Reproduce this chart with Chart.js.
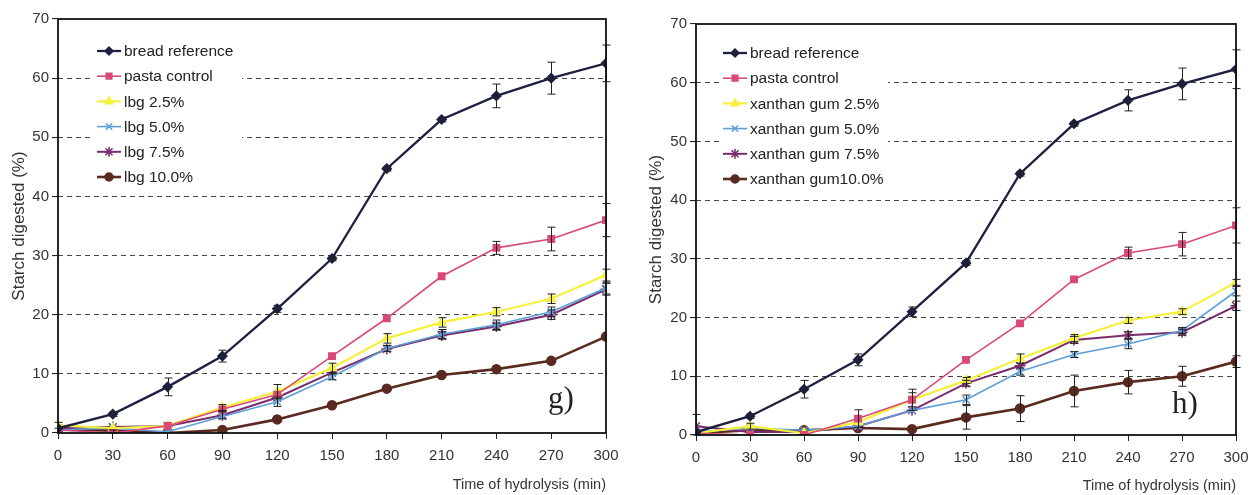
<!DOCTYPE html>
<html>
<head>
<meta charset="utf-8">
<title>Starch digestion curves</title>
<script src="https://cdn.jsdelivr.net/npm/chart.js@4.4.1/dist/chart.umd.min.js"></script>
<style>
  body { margin: 0; background: #fff; }
  #wrap { position: relative; width: 1250px; height: 495px; overflow: hidden; }
  canvas { position: absolute; top: 0; }
</style>
</head>
<body>
<div id="wrap">
  <canvas id="chartG" width="625" height="495" style="left:0"></canvas>
  <canvas id="chartH" width="625" height="495" style="left:625px"></canvas>
</div>
<script>
// ---- data ---------------------------------------------------------------
const TIMES = [0, 30, 60, 90, 120, 150, 180, 210, 240, 270, 300];
const Y_TICKS = [0, 10, 20, 30, 40, 50, 60, 70];

// panel g) locust bean gum
const G_LABELS = ['bread reference', 'pasta control', 'lbg 2.5%', 'lbg 5.0%', 'lbg 7.5%', 'lbg 10.0%'];
const G_BREAD  = [0.8, 3.2, 7.8, 13.0, 21.0, 29.5, 44.7, 53.0, 57.0, 60.0, 62.5];
const G_PASTA  = [0.5, 0.0, 1.2, 4.0, 6.5, 13.0, 19.4, 26.5, 31.3, 32.8, 36.0];
const G_LBG25  = [1.3, 0.8, 1.2, 4.3, 7.0, 11.0, 16.0, 18.7, 20.5, 22.7, 26.7];
const G_LBG50  = [0.5, 0.8, 0.2, 2.8, 5.3, 9.5, 14.3, 16.7, 18.3, 20.5, 24.5];
const G_LBG75  = [0.8, 1.0, 1.2, 3.0, 6.0, 10.2, 14.2, 16.5, 18.0, 20.0, 24.3];
const G_LBG100 = [0.6, 0.4, 0.0, 0.5, 2.3, 4.7, 7.5, 9.8, 10.8, 12.2, 16.3];

const G_BREAD_ERR  = [0, 0.4, 1.5, 1.0, 0.6, 0.4, 0.4, 0.4, 2.0, 2.7, 3.1];
const G_PASTA_ERR  = [0, 0.5, 0, 0, 0, 0, 0, 0, 1.1, 2.0, 2.8];
const G_LBG25_ERR  = [0.5, 0, 0, 0.5, 1.2, 0.8, 0.8, 0.8, 0.7, 0.8, 1.0];
const G_LBG50_ERR  = [0, 0, 0, 0, 0.8, 0.5, 0.5, 0.8, 0.8, 0.8, 1.0];
const G_LBG75_ERR  = [0, 0, 0, 0.6, 0, 0, 0, 0.6, 0.6, 0.8, 1.0];
const G_LBG100_ERR = [0, 0, 0, 0, 0, 0, 0, 0, 0, 0, 0];

// panel h) xanthan gum
const H_LABELS = ['bread reference', 'pasta control', 'xanthan gum 2.5%', 'xanthan gum 5.0%', 'xanthan gum 7.5%', 'xanthan gum10.0%'];
const H_BREAD  = [0.5, 3.2, 7.8, 12.8, 21.0, 29.3, 44.5, 53.0, 57.0, 59.8, 62.3];
const H_PASTA  = [0.3, 0.0, 0.0, 2.8, 6.0, 12.8, 19.0, 26.5, 31.0, 32.5, 35.7];
const H_XG25   = [0.3, 1.5, 0.3, 2.2, 6.0, 9.3, 13.0, 16.5, 19.5, 21.0, 26.0];
const H_XG50   = [0.5, 1.2, 0.8, 1.5, 4.2, 6.0, 10.8, 13.7, 15.5, 17.8, 24.5];
const H_XG75   = [1.5, 0.5, 0.5, 1.5, 4.2, 8.8, 11.8, 16.2, 17.0, 17.5, 22.0];
const H_XG100  = [0.3, 0.8, 0.8, 1.2, 1.0, 3.0, 4.5, 7.5, 9.0, 10.0, 12.5];

const H_BREAD_ERR = [0, 0.4, 1.5, 1.0, 0.8, 0.4, 0.4, 0.4, 1.8, 2.7, 3.3];
const H_PASTA_ERR = [0, 0, 0, 1.5, 1.8, 0, 0, 0, 1.0, 2.0, 3.0];
const H_XG25_ERR  = [0, 0.5, 0, 0, 1.2, 0.5, 0.8, 0.6, 0.5, 0.5, 0.5];
const H_XG50_ERR  = [0, 0, 0, 0, 0, 0.8, 0.6, 0.5, 0.8, 0.5, 0.8];
const H_XG75_ERR  = [2.0, 0, 0, 0, 0, 0.5, 0, 0.6, 0.6, 0.5, 0.8];
const H_XG100_ERR = [0, 0, 0, 0, 0, 2.0, 2.2, 2.7, 2.0, 1.7, 1.0];

// ---- series look (shared by both panels) ---------------------------------
const STYLES = [
  { color: '#1e2040', point: 'rectRot',  radius: 4.5, width: 2.3 },
  { color: '#d8497a', point: 'rect',     radius: 4.5, width: 1.6 },
  { color: '#f4f03c', point: 'triangle', radius: 5,   width: 2.2 },
  { color: '#5d9fd6', point: 'crossRot', radius: 5,   width: 1.6 },
  { color: '#7a2d6c', point: 'star',     radius: 5.5, width: 2 },
  { color: '#5a2a20', point: 'circle',   radius: 4.5, width: 2.6 }
];

Chart.defaults.font.family = "'Liberation Sans', Arial, sans-serif";
Chart.defaults.font.size = 15;
Chart.defaults.color = '#333';

// error bars, legend box, frame and panel tag
const extrasPlugin = {
  id: 'extras',
  beforeDatasetsDraw(chart, args, opts) {
    const ctx = chart.ctx;
    const a = chart.chartArea;
    const x0 = a.left + opts.legendX;
    const y0 = a.top + opts.legendY;
    ctx.save();
    ctx.fillStyle = '#fff';
    ctx.fillRect(x0 - 3, y0 - 14, opts.legendW, opts.rowGap * 6 + 2);
    ctx.restore();
  },
  afterDatasetsDraw(chart, args, opts) {
    const ctx = chart.ctx;
    const xs = chart.scales.x, ys = chart.scales.y;
    ctx.save();
    ctx.strokeStyle = '#222';
    ctx.lineWidth = 1;
    chart.data.datasets.forEach(ds => {
      ds.errors.forEach((e, i) => {
        if (!e) return;
        const v = ds.data[i].y;
        const px = Math.round(xs.getPixelForValue(TIMES[i])) + 0.5;
        const top = ys.getPixelForValue(Math.min(v + e, 70));
        const bot = ys.getPixelForValue(Math.max(v - e, 0));
        ctx.beginPath();
        ctx.moveTo(px, top); ctx.lineTo(px, bot);
        ctx.moveTo(px - 4, top); ctx.lineTo(px + 4, top);
        ctx.moveTo(px - 4, bot); ctx.lineTo(px + 4, bot);
        ctx.stroke();
      });
    });
    ctx.restore();
  },
  afterDraw(chart, args, opts) {
    const ctx = chart.ctx;
    const a = chart.chartArea;
    ctx.save();
    // frame round the plot
    ctx.strokeStyle = '#111';
    ctx.lineWidth = 1.8;
    ctx.strokeRect(a.left, a.top, a.right - a.left, a.bottom - a.top);

    // legend: line - marker - line, then label
    const x0 = a.left + opts.legendX;
    ctx.font = "15.5px 'Liberation Sans', Arial, sans-serif";
    ctx.textBaseline = 'middle';
    chart.data.datasets.forEach((ds, i) => {
      const st = STYLES[i];
      const y = a.top + opts.legendY + i * opts.rowGap;
      ctx.strokeStyle = st.color;
      ctx.lineWidth = st.width;
      ctx.beginPath();
      ctx.moveTo(x0, y); ctx.lineTo(x0 + 24, y);
      ctx.stroke();
      ctx.fillStyle = st.color;
      ctx.lineWidth = 1.5;
      Chart.helpers.drawPoint(ctx, { pointStyle: st.point, radius: st.radius - 0.5, rotation: 0, borderWidth: 1.5 }, x0 + 12, y);
      ctx.fillStyle = '#222';
      ctx.fillText(ds.label, x0 + 27, y + 1);
    });

    // panel tag
    ctx.fillStyle = '#222';
    ctx.font = "31px 'Liberation Serif', 'Times New Roman', serif";
    ctx.textBaseline = 'alphabetic';
    ctx.fillText(opts.tag, a.left + opts.tagX, a.top + opts.tagY);
    ctx.restore();
  }
};

function buildChart(canvasId, labels, series, errors, layout) {
  const datasets = series.map((vals, i) => ({
    label: labels[i],
    data: vals.map((v, j) => ({ x: TIMES[j], y: v })),
    errors: errors[i],
    borderColor: STYLES[i].color,
    backgroundColor: STYLES[i].color,
    borderWidth: STYLES[i].width,
    pointStyle: STYLES[i].point,
    pointRadius: STYLES[i].radius,
    pointBorderWidth: 1.5,
    tension: 0
  }));

  return new Chart(document.getElementById(canvasId), {
    type: 'line',
    data: { datasets },
    options: {
      responsive: false,
      animation: false,
      layout: { padding: layout.padding },
      plugins: {
        legend: { display: false },
        tooltip: { enabled: false },
        extras: layout.extras
      },
      scales: {
        x: {
          type: 'linear',
          min: 0,
          max: 300,
          ticks: { stepSize: 30, padding: 8, color: '#333', maxRotation: 0 },
          grid: { drawOnChartArea: false, tickLength: 6, tickColor: '#222' },
          border: { display: false },
          title: {
            display: true,
            text: 'Time of hydrolysis (min)',
            align: 'end',
            color: '#333',
            font: { size: 14.5 },
            padding: { top: 0, bottom: layout.xTitlePad }
          },
          afterFit(s) { s.height = layout.xHeight; s.paddingLeft = 0; s.paddingRight = 0; }
        },
        y: {
          min: 0,
          max: 70,
          afterBuildTicks(s) { s.ticks = Y_TICKS.map(v => ({ value: v })); },
          ticks: { padding: 3, color: '#333' },
          grid: {
            color: c => (c.tick.value === 0 || c.tick.value === 70) ? 'rgba(0,0,0,0)' : '#444',
            tickColor: '#222',
            tickLength: 6,
            lineWidth: 1.1,
            tickBorderDash: []
          },
          border: { display: false, dash: [5, 4] },
          title: {
            display: true,
            text: 'Starch digested (%)',
            color: '#333',
            font: { size: 17 },
            padding: { top: 0, bottom: 0 }
          },
          afterFit(s) { s.width = layout.yWidth; s.paddingTop = 0; s.paddingBottom = 0; }
        }
      }
    },
    plugins: [extrasPlugin]
  });
}

buildChart('chartG', G_LABELS,
  [G_BREAD, G_PASTA, G_LBG25, G_LBG50, G_LBG75, G_LBG100],
  [G_BREAD_ERR, G_PASTA_ERR, G_LBG25_ERR, G_LBG50_ERR, G_LBG75_ERR, G_LBG100_ERR],
  {
    padding: { left: 9, top: 19, right: 19, bottom: 0 },
    yWidth: 49,
    xHeight: 62,
    xTitlePad: 1,
    extras: { legendX: 39, legendY: 32, rowGap: 25.2, legendW: 148, tag: 'g)', tagX: 490, tagY: 389 }
  });

buildChart('chartH', H_LABELS,
  [H_BREAD, H_PASTA, H_XG25, H_XG50, H_XG75, H_XG100],
  [H_BREAD_ERR, H_PASTA_ERR, H_XG25_ERR, H_XG50_ERR, H_XG75_ERR, H_XG100_ERR],
  {
    padding: { left: 21, top: 24, right: 14, bottom: 0 },
    yWidth: 50,
    xHeight: 60,
    xTitlePad: 0,
    extras: { legendX: 27, legendY: 29, rowGap: 25.2, legendW: 168, tag: 'h)', tagX: 476, tagY: 389 }
  });
</script>
</body>
</html>
